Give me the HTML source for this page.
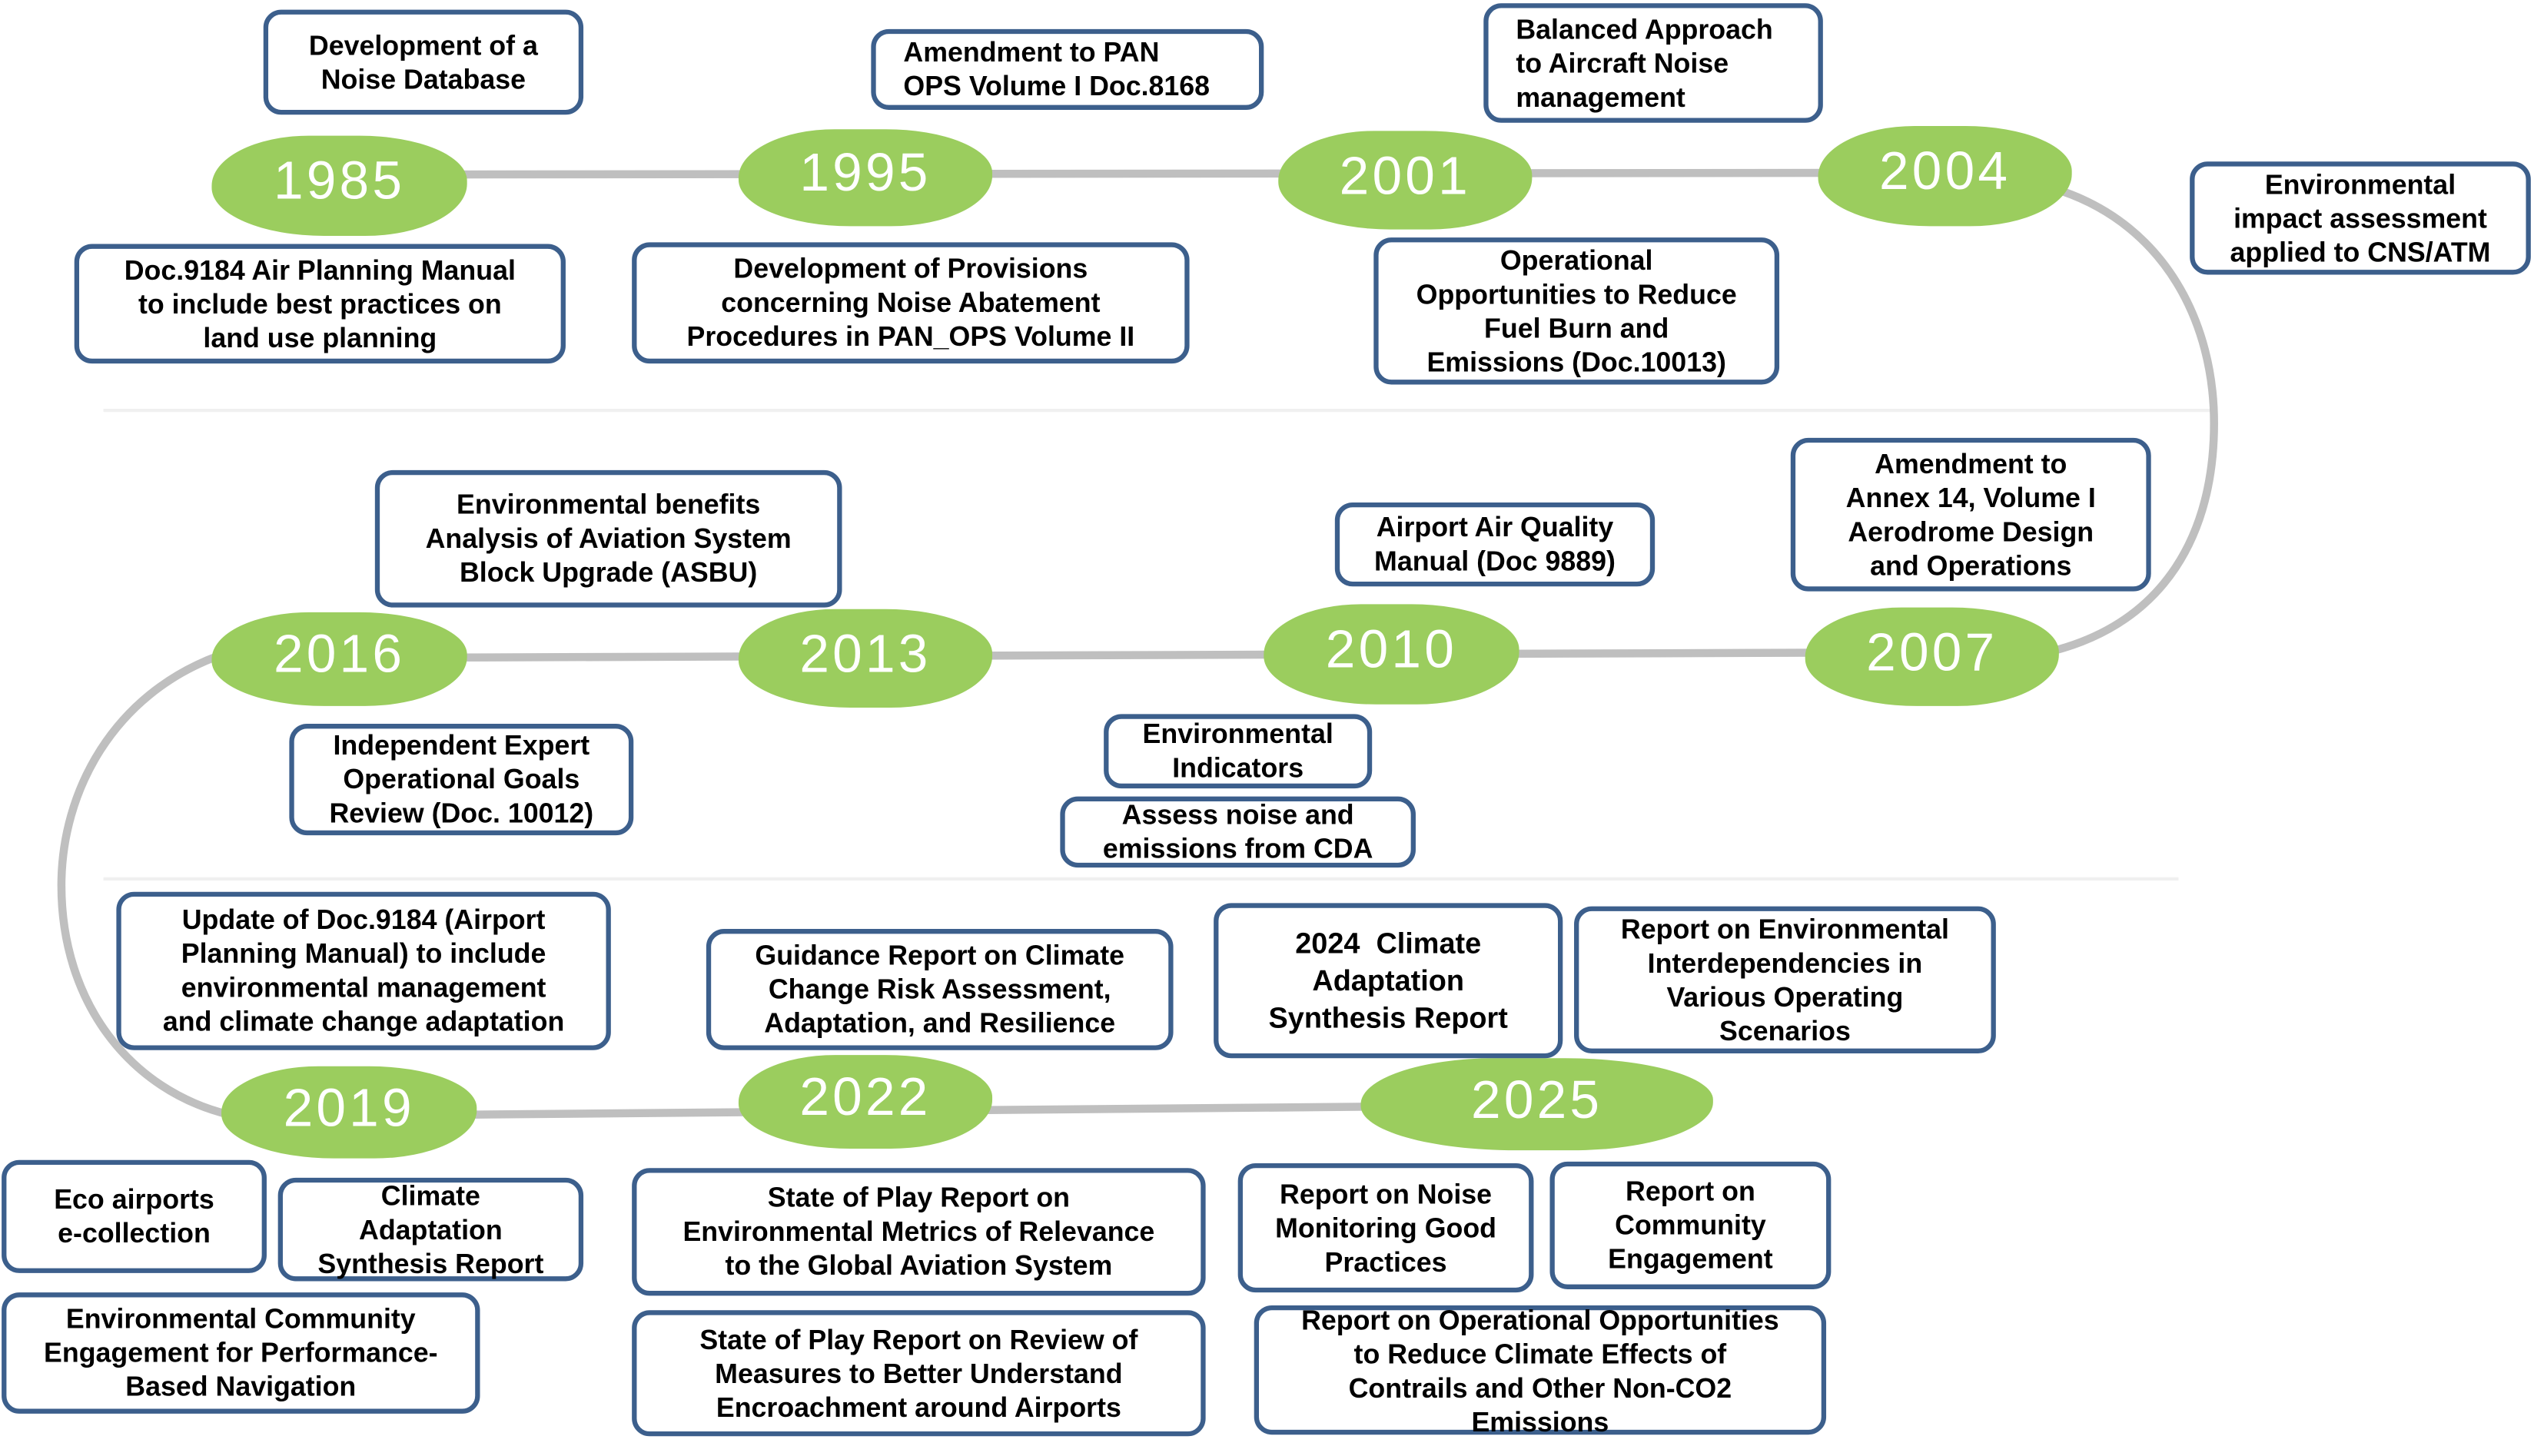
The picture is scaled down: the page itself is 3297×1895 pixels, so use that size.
<!DOCTYPE html>
<html><head><meta charset="utf-8"><style>
html,body{margin:0;padding:0;background:#fff;}
body{width:3297px;height:1894px;overflow:hidden;position:relative;}
#s{position:absolute;left:0;top:0;width:1568px;height:901px;transform:scale(2.1027);transform-origin:0 0;font-family:"Liberation Sans",Arial,sans-serif;}
.b{position:absolute;box-sizing:border-box;border:3px solid #3c5f8c;border-radius:11px;background:#fff;display:flex;align-items:center;justify-content:center;text-align:center;font-weight:bold;font-size:17px;line-height:21px;color:#000;}
.l{justify-content:flex-start;text-align:left;padding-left:17px;}
.y{position:absolute;background:#9bcd5e;border-radius:38% 42% 40% 44% / 50% 45% 52% 48%;color:#fff;font-size:33px;letter-spacing:2px;display:flex;align-items:center;justify-content:center;padding-bottom:6px;box-sizing:border-box;}
svg{position:absolute;left:0;top:0;}
</style></head><body><div id="s">
<svg width="1568" height="901">
<line x1="64" y1="254" x2="1368" y2="254" stroke="#f0f0f0" stroke-width="2"/>
<line x1="64" y1="544" x2="1348" y2="544" stroke="#f0f0f0" stroke-width="2"/>
<g fill="none" stroke="#bfbfbf" stroke-width="5">
<line x1="280" y1="108" x2="1135" y2="107"/>
<path d="M1275 118 C1340 140 1370 200 1370 262 C1370 330 1340 385 1270 403"/>
<line x1="280" y1="407" x2="1125" y2="404"/>
<path d="M135 406 C70 430 38 490 38 548 C38 620 80 675 142 690"/>
<line x1="285" y1="690" x2="850" y2="685"/>
</g>
</svg>
<div class="y" style="left:131px;top:84px;width:158px;height:62px">1985</div>
<div class="y" style="left:457px;top:80px;width:157px;height:60px">1995</div>
<div class="y" style="left:791px;top:81px;width:157px;height:61px">2001</div>
<div class="y" style="left:1125px;top:78px;width:157px;height:62px">2004</div>
<div class="y" style="left:1117px;top:376px;width:157px;height:61px">2007</div>
<div class="y" style="left:782px;top:374px;width:158px;height:62px">2010</div>
<div class="y" style="left:457px;top:377px;width:157px;height:61px">2013</div>
<div class="y" style="left:131px;top:379px;width:158px;height:58px">2016</div>
<div class="y" style="left:137px;top:660px;width:158px;height:57px">2019</div>
<div class="y" style="left:457px;top:653px;width:157px;height:58px">2022</div>
<div class="y" style="left:842px;top:655px;width:218px;height:57px">2025</div>

<div class="b" style="left:163px;top:6px;width:198px;height:65px">Development of a<br>Noise Database</div>
<div class="b l" style="left:539px;top:18px;width:243px;height:50px">Amendment to PAN<br>OPS Volume I Doc.8168</div>
<div class="b l" style="left:918px;top:2px;width:210px;height:74px">Balanced Approach<br>to Aircraft Noise<br>management</div>
<div class="b" style="left:1355px;top:100px;width:211px;height:70px">Environmental<br>impact assessment<br>applied to CNS/ATM</div>
<div class="b" style="left:46px;top:151px;width:304px;height:74px">Doc.9184 Air Planning Manual<br>to include best practices on<br>land use planning</div>
<div class="b" style="left:391px;top:150px;width:345px;height:75px">Development of Provisions<br>concerning Noise Abatement<br>Procedures in PAN_OPS Volume II</div>
<div class="b" style="left:850px;top:147px;width:251px;height:91px">Operational<br>Opportunities to Reduce<br>Fuel Burn and<br>Emissions (Doc.10013)</div>
<div class="b" style="left:1108px;top:271px;width:223px;height:95px">Amendment to<br>Annex 14, Volume I<br>Aerodrome Design<br>and Operations</div>
<div class="b" style="left:232px;top:291px;width:289px;height:85px">Environmental benefits<br>Analysis of Aviation System<br>Block Upgrade (ASBU)</div>
<div class="b" style="left:826px;top:311px;width:198px;height:52px">Airport Air Quality<br>Manual (Doc 9889)</div>
<div class="b" style="left:179px;top:448px;width:213px;height:69px">Independent Expert<br>Operational Goals<br>Review (Doc. 10012)</div>
<div class="b" style="left:683px;top:442px;width:166px;height:46px">Environmental<br>Indicators</div>
<div class="b" style="left:656px;top:493px;width:220px;height:44px">Assess noise and<br>emissions from CDA</div>
<div class="b" style="left:72px;top:552px;width:306px;height:98px">Update of Doc.9184 (Airport<br>Planning Manual) to include<br>environmental management<br>and climate change adaptation</div>
<div class="b" style="left:437px;top:575px;width:289px;height:75px">Guidance Report on Climate<br>Change Risk Assessment,<br>Adaptation, and Resilience</div>
<div class="b" style="left:751px;top:559px;width:216px;height:96px;font-size:18px;line-height:23px">2024&nbsp; Climate<br>Adaptation<br>Synthesis Report</div>
<div class="b" style="left:974px;top:561px;width:261px;height:91px">Report on Environmental<br>Interdependencies in<br>Various Operating<br>Scenarios</div>
<div class="b" style="left:1px;top:718px;width:164px;height:70px">Eco airports<br>e-collection</div>
<div class="b" style="left:172px;top:729px;width:189px;height:64px">Climate<br>Adaptation<br>Synthesis Report</div>
<div class="b" style="left:1px;top:800px;width:296px;height:75px">Environmental Community<br>Engagement for Performance-<br>Based Navigation</div>
<div class="b" style="left:391px;top:723px;width:355px;height:79px">State of Play Report on<br>Environmental Metrics of Relevance<br>to the Global Aviation System</div>
<div class="b" style="left:391px;top:811px;width:355px;height:78px">State of Play Report on Review of<br>Measures to Better Understand<br>Encroachment around Airports</div>
<div class="b" style="left:766px;top:720px;width:183px;height:80px">Report on Noise<br>Monitoring Good<br>Practices</div>
<div class="b" style="left:959px;top:719px;width:174px;height:79px">Report on<br>Community<br>Engagement</div>
<div class="b" style="left:776px;top:808px;width:354px;height:80px;padding-top:2px">Report on Operational Opportunities<br>to Reduce Climate Effects of<br>Contrails and Other Non-CO2<br>Emissions</div>
</div></body></html>
